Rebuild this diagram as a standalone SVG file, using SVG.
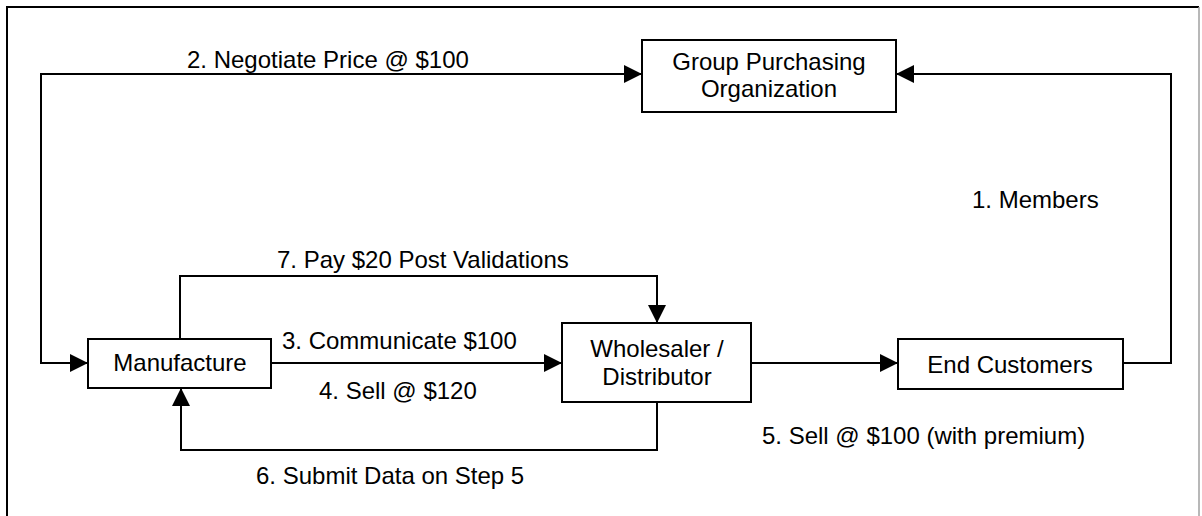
<svg xmlns="http://www.w3.org/2000/svg" width="1202" height="516" viewBox="0 0 1202 516">
  <style>
    .box { fill: #ffffff; stroke: #000000; stroke-width: 2; }
    .wire { fill: none; stroke: #000000; stroke-width: 2; }
    text { font-family: "Liberation Sans", Arial, sans-serif; font-size: 24px; fill: #000000; }
    .mid { text-anchor: middle; }
  </style>
  <defs>
    <marker id="arrow" markerUnits="userSpaceOnUse" markerWidth="18" markerHeight="18" refX="18" refY="9" orient="auto-start-reverse">
      <path d="M0,0 L18,9 L0,18 z" fill="#000000"/>
    </marker>
  </defs>

  <rect width="1202" height="516" fill="#ffffff"/>

  <!-- outer frame -->
  <g id="frame">
    <path d="M7,516 V7 H1199" fill="none" stroke="#000000" stroke-width="2"/>
    <path d="M1199,7 V516" fill="none" stroke="#a0a0a0" stroke-width="1.5"/>
  </g>

  <!-- connectors -->
  <g id="connectors">
    <path class="wire" d="M88,363 H41 V74 H642" marker-start="url(#arrow)" marker-end="url(#arrow)"/>
    <path class="wire" d="M1123,363 H1171 V74 H896" marker-end="url(#arrow)"/>
    <path class="wire" d="M271,363 H562" marker-end="url(#arrow)"/>
    <path class="wire" d="M180,339 V276 H657 V323" marker-end="url(#arrow)"/>
    <path class="wire" d="M751,363 H898" marker-end="url(#arrow)"/>
    <path class="wire" d="M657,402 V450 H181 V388" marker-end="url(#arrow)"/>
  </g>

  <!-- connector labels -->
  <g id="labels">
    <text x="187" y="68">2. Negotiate Price @ $100</text>
    <text x="972" y="208">1. Members</text>
    <text x="277" y="268">7. Pay $20 Post Validations</text>
    <text x="282" y="349">3. Communicate $100</text>
    <text x="319" y="399">4. Sell @ $120</text>
    <text x="762" y="444">5. Sell @ $100 (with premium)</text>
    <text x="256" y="484">6. Submit Data on Step 5</text>
  </g>

  <g id="gpo">
    <rect class="box" x="642" y="40" width="254" height="72"/>
    <text class="mid" x="769" y="70">Group Purchasing</text>
    <text class="mid" x="769" y="97">Organization</text>
  </g>

  <g id="manufacture">
    <rect class="box" x="88" y="339" width="183" height="49"/>
    <text class="mid" x="180" y="371">Manufacture</text>
  </g>

  <g id="wholesaler">
    <rect class="box" x="562" y="323" width="189" height="79"/>
    <text class="mid" x="657" y="357">Wholesaler /</text>
    <text class="mid" x="657" y="385">Distributor</text>
  </g>

  <g id="end-customers">
    <rect class="box" x="898" y="339" width="225" height="50"/>
    <text class="mid" x="1010" y="373">End Customers</text>
  </g>
</svg>
